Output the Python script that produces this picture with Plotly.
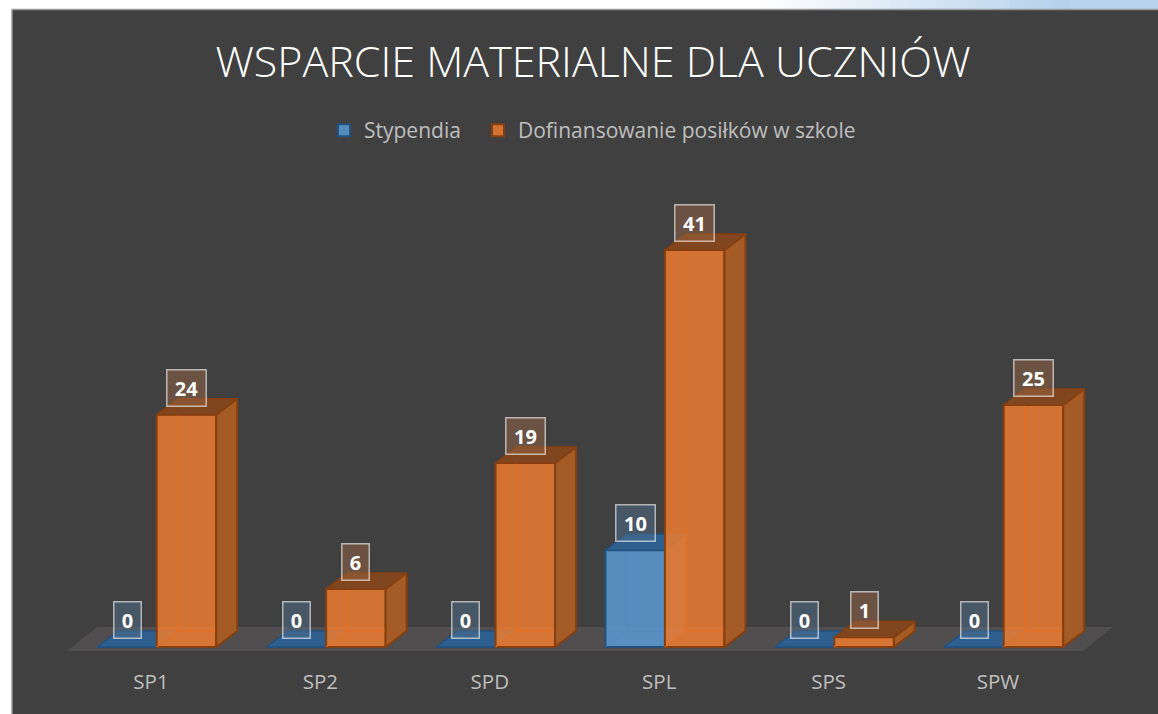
import plotly.graph_objects as go

categories = ["SP1", "SP2", "SPD", "SPL", "SPS", "SPW"]
stypendia = [0, 0, 0, 10, 0, 0]
dofinansowanie = [24, 6, 19, 41, 1, 25]
title_text = "WSPARCIE MATERIALNE DLA UCZNIÓW"
series_names = ["Stypendia", "Dofinansowanie posiłków w szkole"]

# pixel scale helpers (axes span the whole width; y range chosen so 0 sits at the floor)
PX_X = 169.4
PX_Y = 9.68
W, H = 1158, 714
PLOT_BOTTOM = 660
ZERO_Y = 647
TICK_X0 = 151
DX = 21 / PX_X
DY = 16 / PX_Y
BAR_W = 59.5 / PX_X
OFFS = [(127 - TICK_X0) / PX_X, (186.5 - TICK_X0) / PX_X]

STY = [
    dict(front="rgba(91,155,213,0.85)", edge="#23527f", side="rgba(91,143,197,0.5)", top="#2f5f8e",
         inner="rgba(80,135,195,0.4)", box="rgba(80,110,140,0.5)", legend="legend"),
    dict(front="rgba(237,125,49,0.85)", edge="#863F10", side="#A55B25", top="#80461F",
         inner="rgba(232,112,30,0.7)", box="rgba(150,100,70,0.5)", legend="legend2"),
]
vals = [stypendia, dofinansowanie]
xs = list(range(len(categories)))


def py_paper(px):
    return (PLOT_BOTTOM - px) / PLOT_BOTTOM


def poly(polys, fill, line, width, zorder):
    px, py = [], []
    for p in polys:
        px += [a for a, _ in p] + [p[0][0], None]
        py += [b for _, b in p] + [p[0][1], None]
    return go.Scatter(x=px, y=py, mode="lines", fill="toself", fillcolor=fill,
                      line=dict(color=line, width=width), hoverinfo="skip",
                      showlegend=False, zorder=zorder)


fig = go.Figure()

# floor
fb = -4 / PX_Y
fig.add_trace(poly([[((67 - TICK_X0) / PX_X, fb), ((1083 - TICK_X0) / PX_X, fb),
                     ((1113 - TICK_X0) / PX_X, fb + 24 / PX_Y), ((97 - TICK_X0) / PX_X, fb + 24 / PX_Y)]],
                   "#504E4E", "rgba(0,0,0,0)", 0, 0))

for s, (v, st, off, name) in enumerate(zip(vals, STY, OFFS, series_names)):
    z = 1 + s * 10
    centers = [i + off for i in xs]
    fig.add_trace(go.Bar(x=centers, y=v, width=BAR_W, name=name, legend=st["legend"],
                         marker=dict(color=st["front"], line=dict(color=st["edge"], width=2)),
                         hoverinfo="skip", zorder=z))
    tops, sides, inner_x, inner_y = [], [], [], []
    for c, h in zip(centers, v):
        l, r = c - BAR_W / 2, c + BAR_W / 2
        tops.append([(l, h), (r, h), (r + DX, h + DY), (l + DX, h + DY)])
        if h > 0:
            sides.append([(r, 0), (r + DX, DY), (r + DX, h + DY), (r, h)])
            inner_x += [l + DX, l + DX, None, l, l + DX, r + DX, None]
            inner_y += [h + DY, DY, None, 0, DY, DY, None]
    fig.add_trace(go.Scatter(x=inner_x, y=inner_y, mode="lines", line=dict(color=st["inner"], width=1.5),
                             hoverinfo="skip", showlegend=False, zorder=z + 1))
    fig.add_trace(poly(sides, st["side"], st["edge"] if s == 1 else "rgba(0,0,0,0)", 2, z + 2))
    fig.add_trace(poly(tops, st["top"], st["edge"], 1.5, z + 3))

for s, (v, st, off) in enumerate(zip(vals, STY, OFFS)):
    for i, h in zip(xs, v):
        fig.add_annotation(x=i + off, y=h, yshift=27, xref="x", yref="y", text=f"<b>{h}</b>", showarrow=False,
                           font=dict(family="Open Sans", size=20, color="white"),
                           bgcolor=st["box"], bordercolor="rgba(255,255,255,0.6)", borderwidth=1.5,
                           width=36 if h >= 10 else 24, height=33, align="center", valign="middle")

# slide strip above the chart: white fading to pale blue
shapes = [dict(type="rect", xref="paper", yref="paper", x0=0, x1=760 / W, y0=py_paper(10), y1=py_paper(0),
               fillcolor="#ffffff", line_width=0, layer="below")]
STEPS = 62
for k in range(STEPS):
    t = (k + 0.5) / STEPS
    c = "rgb(%d,%d,%d)" % (255 + (180 - 255) * t, 255 + (209 - 255) * t, 255 + (236 - 255) * t)
    shapes.append(dict(type="rect", xref="paper", yref="paper", x0=(760 + 310 * k / STEPS) / W,
                       x1=(760 + 310 * (k + 1) / STEPS) / W, y0=py_paper(10), y1=py_paper(0),
                       fillcolor=c, line_width=0, layer="below"))
shapes.append(dict(type="rect", xref="paper", yref="paper", x0=1070 / W, x1=1, y0=py_paper(10), y1=py_paper(0),
                   fillcolor="#b8d3ec", line_width=0, layer="below"))
shapes.append(dict(type="rect", xref="paper", yref="paper", x0=12 / W, x1=1.01, y0=py_paper(H + 5), y1=py_paper(9.5),
                   fillcolor="#404040", line=dict(color="#999999", width=1.5), layer="below"))

legend_style = dict(orientation="h", xanchor="left", yanchor="top", yref="paper", xref="paper",
                    bgcolor="rgba(0,0,0,0)", font=dict(family="Open Sans", size=21, color="#BFBFBF"))

fig.update_layout(
    width=W, height=H, autosize=False,
    margin=dict(l=0, r=0, t=0, b=H - PLOT_BOTTOM, pad=0),
    paper_bgcolor="white", plot_bgcolor="rgba(0,0,0,0)",
    barmode="overlay", shapes=shapes,
    title=dict(text=title_text, x=593 / W, xanchor="center", xref="paper", y=1 - 62 / H, yanchor="middle", yref="container",
               font=dict(family="Open Sans", size=43, color="white", weight=300)),
    legend=dict(x=324 / W, y=py_paper(110), **legend_style),
    legend2=dict(x=478 / W, y=py_paper(110), **legend_style),
    xaxis=dict(range=[-TICK_X0 / PX_X, (W - TICK_X0) / PX_X], tickmode="array", tickvals=xs, ticktext=categories,
               showgrid=False, zeroline=False, showline=False, ticks="outside", ticklen=3, tickcolor="rgba(0,0,0,0)",
               tickfont=dict(family="Open Sans", size=20.5, color="#BFBFBF")),
    yaxis=dict(range=[-(PLOT_BOTTOM - ZERO_Y) / PX_Y, ZERO_Y / PX_Y], visible=False),
)

fig.write_html("out.html", config={"displayModeBar": False},
               post_script="document.body.style.margin='0';document.documentElement.style.overflow='hidden';")
